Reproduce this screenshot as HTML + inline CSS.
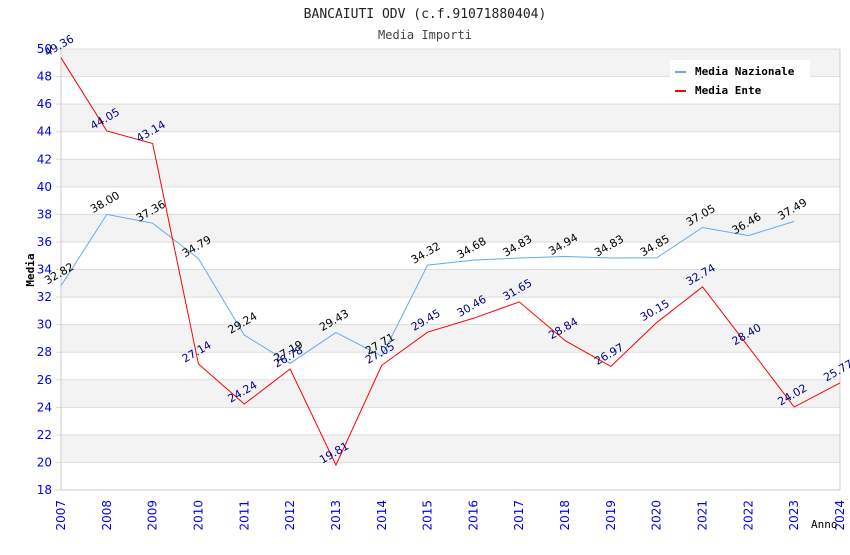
<!DOCTYPE html>
<html><head><meta charset="utf-8"><style>
body{margin:0;background:#fff}
svg text{font-family:"DejaVu Sans","Liberation Sans",sans-serif}
.mono{font-family:"DejaVu Sans Mono","Liberation Mono",monospace}
</style></head><body>
<svg id="c" width="850" height="550">
<text class="mono" x="425" y="18" text-anchor="middle" font-size="13" fill="#222">BANCAIUTI ODV (c.f.91071880404)</text>
<text class="mono" x="425" y="39" text-anchor="middle" font-size="12" fill="#444">Media Importi</text>
<g id="grid"></g>
<g id="marks"></g>
<g>
<rect x="670" y="60" width="140" height="38" fill="#fff"/>
<rect x="675" y="71" width="11" height="2" fill="#66aaee"/>
<text class="mono" x="695" y="75" font-size="11" font-weight="bold" fill="#000">Media Nazionale</text>
<rect x="675" y="90" width="11" height="2" fill="#ff0000"/>
<text class="mono" x="695" y="94" font-size="11" font-weight="bold" fill="#000">Media Ente</text>
</g>
<text class="mono" x="34" y="270" font-size="11" font-weight="bold" fill="#000" transform="rotate(-90 34 270)" text-anchor="middle">Media</text>
<text class="mono" x="811" y="528" font-size="11" fill="#000">Anno</text>
</svg>
<script>
const years=[2007,2008,2009,2010,2011,2012,2013,2014,2015,2016,2017,2018,2019,2020,2021,2022,2023,2024];
const nazionale=[32.82,38.00,37.36,34.79,29.24,27.19,29.43,27.71,34.32,34.68,34.83,34.94,34.83,34.85,37.05,36.46,37.49,null];
const ente=[49.36,44.05,43.14,27.14,24.24,26.78,19.81,27.05,29.45,30.46,31.65,28.84,26.97,30.15,32.74,28.40,24.02,25.77];
const yTicks=[18,20,22,24,26,28,30,32,34,36,38,40,42,44,46,48,50];
const L=61,R=840,T=49,B=490,ymin=18,ymax=50;
const NS='http://www.w3.org/2000/svg';
const X=i=>L+i*(R-L)/(years.length-1);
const Y=v=>B-(v-ymin)*(B-T)/(ymax-ymin);
const grid=document.getElementById('grid'),marks=document.getElementById('marks');
function mk(tag,a,p){const e=document.createElementNS(NS,tag);for(const k in a)e.setAttribute(k,a[k]);p.appendChild(e);return e;}
for(let k=0;k<yTicks.length-1;k++){
 if(k%2===1){const r=mk('rect',{x:L,y:Y(yTicks[k+1]),width:R-L,height:Y(yTicks[k])-Y(yTicks[k+1]),fill:'#f3f3f3'},grid);
 
 }
}
yTicks.forEach(v=>{
 const l=mk('line',{x1:L-5,x2:R,y1:Y(v),y2:Y(v),stroke:'#dddddd'},grid);
 
 
 const t=mk('text',{x:L-9,y:Y(v)+4,'text-anchor':'end','font-size':12,fill:'#0000ee'},grid);
 
 
 t.textContent=v;
});
mk('line',{x1:L,x2:L,y1:T,y2:B,stroke:'#ccc'},grid);
mk('line',{x1:R,x2:R,y1:T,y2:B,stroke:'#ccc'},grid);
mk('line',{x1:L,x2:R,y1:B,y2:B,stroke:'#ccc'},grid);
years.forEach((yr,i)=>{
 const x=X(i);
 const t=mk('text',{x:x+4,y:500,'text-anchor':'end','font-size':12,fill:'#0000ee',transform:`rotate(-90 ${x+4} 500)`},grid);
 
 
 t.textContent=yr;
});
function series(vals,color,lc,name){
 const pts=[];vals.forEach((v,i)=>{if(v!=null)pts.push(X(i)+','+Y(v));});
 const p=mk('polyline',{points:pts.join(' '),fill:'none',stroke:color,'stroke-width':1},marks);
 
 
 vals.forEach((v,i)=>{if(v==null)return;
  const x=X(i),y=Y(v)-9;
  const t=mk('text',{x:x,y:y,'text-anchor':'middle','font-size':11,fill:lc,transform:`rotate(-30 ${x} ${y})`},marks);
  
  
  t.textContent=v.toFixed(2);
 });
}
series(nazionale,'#66aaee','#000','nazionale');
series(ente,'#ff0000','#000080','ente');
</script>
</body></html>
